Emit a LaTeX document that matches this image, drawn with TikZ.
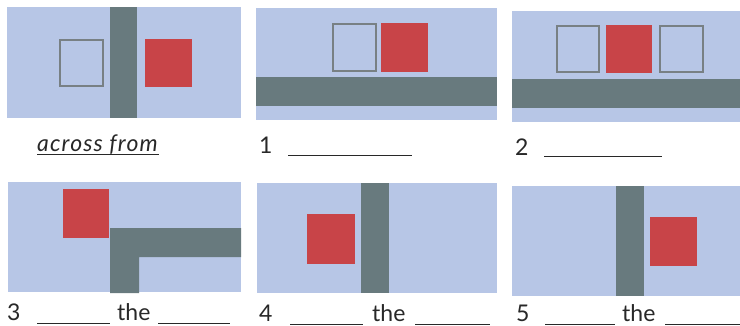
\documentclass[tikz,border=0pt]{standalone}
\usepackage{fontspec}
\setmainfont{Lato}
\definecolor{panelbg}{RGB}{183,198,230}
\definecolor{barcol}{RGB}{104,122,126}
\definecolor{redsq}{RGB}{200,68,72}
\definecolor{outl}{RGB}{120,128,132}
\definecolor{txt}{RGB}{40,40,40}
\begin{document}
\begin{tikzpicture}[x=1pt,y=-1pt,
  panel/.style={fill=panelbg},
  bar/.style={fill=barcol},
  redbox/.style={fill=redsq},
  emptybox/.style={draw=outl,line width=1.6pt},
  lbl/.style={anchor=base west,inner sep=0pt,text=txt,font=\fontsize{23}{24}\selectfont},
  blank/.style={draw=txt,line width=0.9pt}]
\useasboundingbox (0,0) rectangle (740,325);
\fill[white] (0,0) rectangle (740,325);
% Panel A
\fill[panel] (7,7) rectangle (241,118);
\fill[bar] (110,7) rectangle (137,118);
\draw[emptybox] (59.8,39.8) rectangle (103.2,86.2);
\fill[redbox] (145,39) rectangle (192,87);
\node[lbl] (tA) at (37,151) {\itshape\addfontfeature{LetterSpace=5}across from};
\draw[blank,line width=0.8pt] (37,154) -- (159,154);
% Panel 1
\fill[panel] (256,8) rectangle (497,120);
\fill[bar] (256,77) rectangle (497,106);
\draw[emptybox] (332.8,23.8) rectangle (376.2,71.2);
\fill[redbox] (381,23) rectangle (428,72);
\node[lbl] (t1) at (259,153) {1};
\coordinate (b1s) at (288,155);
\coordinate (b1e) at (412,155);
\draw[blank] (b1s) -- (b1e);
% Panel 2
\fill[panel] (512,11) rectangle (740,122);
\fill[bar] (512,79) rectangle (740,108);
\draw[emptybox] (556.8,25.8) rectangle (599.2,72.2);
\fill[redbox] (606,25) rectangle (652,73);
\draw[emptybox] (659.8,25.8) rectangle (703.2,72.2);
\node[lbl] (t2) at (515,155) {2};
\coordinate (b2s) at (544,156);
\coordinate (b2e) at (662,156);
\draw[blank] (b2s) -- (b2e);
% Panel 3
\fill[panel] (8,182) rectangle (241,292);
\fill[redbox] (63,189) rectangle (109,238);
\fill[bar] (110,228) -| (241,257) -| (139,293) -| cycle;
\node[lbl] (t3) at (7,320) {3};
\node[lbl] (t3b) at (117,320) {the};
\coordinate (b3s) at (37,323.5);
\coordinate (b3e) at (110,323.5);
\coordinate (b3f) at (158,323.5);
\coordinate (b3g) at (230,323.5);
\draw[blank] (b3s) -- (b3e);
\draw[blank] (b3f) -- (b3g);
% Panel 4
\fill[panel] (257,183) rectangle (497,293);
\fill[bar] (361,183) rectangle (389,293);
\fill[redbox] (307,214) rectangle (355,264);
\node[lbl] (t4) at (259,321) {4};
\node[lbl] (t4b) at (372,321) {the};
\coordinate (b4s) at (290,324);
\coordinate (b4e) at (363,324);
\coordinate (b4f) at (415,324);
\coordinate (b4g) at (490,324);
\draw[blank] (b4s) -- (b4e);
\draw[blank] (b4f) -- (b4g);
% Panel 5
\fill[panel] (512,186) rectangle (740,296);
\fill[bar] (616,186) rectangle (644,296);
\fill[redbox] (650,217) rectangle (697,266);
\node[lbl] (t5) at (516,321) {5};
\node[lbl] (t5b) at (622,321) {the};
\coordinate (b5s) at (545,324);
\coordinate (b5e) at (615,324);
\coordinate (b5f) at (665,324);
\coordinate (b5g) at (740,324);
\draw[blank] (b5s) -- (b5e);
\draw[blank] (b5f) -- (b5g);
\end{tikzpicture}
\end{document}
